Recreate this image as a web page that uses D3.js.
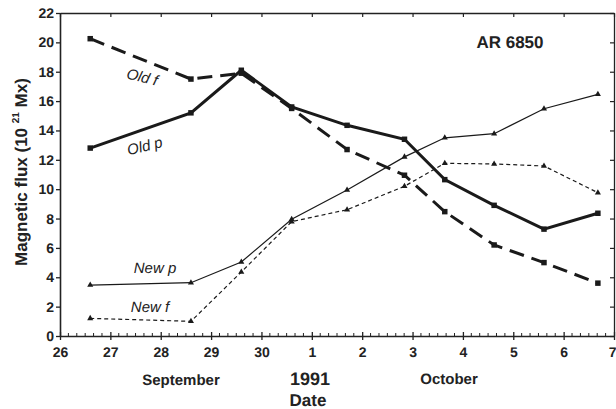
<!DOCTYPE html>
<html>
<head>
<meta charset="utf-8">
<script src="https://cdn.jsdelivr.net/npm/d3@7"></script>
<style>
  body { margin: 0; background: #fff; }
  svg text { font-family: "Liberation Sans", Arial, sans-serif; fill: #222; text-rendering: geometricPrecision; }
</style>
</head>
<body>
<div id="chart"></div>
<script>
// observation times, in days counted from September (Oct 1 = 31)
let dates = [26.6, 28.6, 29.6, 30.6, 31.7, 32.84, 33.64, 34.62, 35.61, 36.68];
let oldP = [12.8, 15.2, 18.1, 15.6, 14.35, 13.4, 10.65, 8.9, 7.28, 8.36];
let oldF = [20.25, 17.5, 17.9, 15.5, 12.7, 10.95, 8.47, 6.2, 5.0, 3.6];
let newP = [3.47, 3.63, 5.04, 7.95, 9.95, 12.2, 13.5, 13.78, 15.48, 16.46];
let newF = [1.2, 1.0, 4.36, 7.79, 8.6, 10.2, 11.76, 11.72, 11.58, 9.76];
let dayTicks = [26, 27, 28, 29, 30, 31, 32, 33, 34, 35, 36, 37];
let fluxTicks = [0, 2, 4, 6, 8, 10, 12, 14, 16, 18, 20, 22];

let margin = { top: 13, right: 2, bottom: 73, left: 60 },
	width = 616 - margin.left - margin.right,
	height = 409 - margin.top - margin.bottom;

let svg = d3.select("#chart")
	.append("svg")
	.attr("width", 616)
	.attr("height", 409)
	.append("g")
	.attr("transform", "translate(" + margin.left + "," + margin.top + ")");

let x = d3.scaleLinear().domain([26, 37]).range([0, width]);
let y = d3.scaleLinear().domain([0, 22]).range([height, 0]);

// minor ticks every 4 hours along the bottom
let minor = d3.range(26, 37, 1 / 6).filter(d => Math.abs(d - Math.round(d)) > 0.01);
svg.append("g")
	.selectAll("line")
	.data(minor)
	.enter().append("line")
	.attr("x1", d => x(d)).attr("x2", d => x(d))
	.attr("y1", height).attr("y2", height - 3)
	.attr("stroke", "#222").attr("stroke-width", 1);

// bottom axis
let xAxis = svg.append("g")
	.attr("transform", "translate(0," + height + ")")
	.call(d3.axisBottom(x).tickValues(dayTicks).tickSizeInner(4).tickSizeOuter(0)
		.tickFormat(d => d > 30 ? d - 30 : d));
xAxis.select(".domain").attr("stroke", "#222").attr("stroke-width", 1.6);
xAxis.selectAll(".tick line").attr("y1", -4).attr("stroke", "#222").attr("stroke-width", 1.3);
xAxis.selectAll(".tick text")
	.attr("y", 11)
	.style("font-size", "14px").style("font-weight", "bold")
	.style("font-family", "Liberation Sans, Arial, sans-serif").attr("fill", "#222");
// last label sits at the right edge, keep it inside the picture
xAxis.selectAll(".tick text").filter(d => d === 37)
	.attr("text-anchor", "end").attr("x", 2);

// top axis
let xTop = svg.append("g")
	.call(d3.axisTop(x).tickValues(dayTicks).tickSizeInner(-4).tickSizeOuter(0).tickFormat(""));
xTop.select(".domain").attr("stroke", "#222").attr("stroke-width", 1.3);
xTop.selectAll(".tick line").attr("stroke", "#222").attr("stroke-width", 1.2);

// left axis
let yAxis = svg.append("g")
	.call(d3.axisLeft(y).tickValues(fluxTicks).tickSizeInner(4).tickSizeOuter(0));
yAxis.select(".domain").attr("stroke", "#222").attr("stroke-width", 1.6);
yAxis.selectAll(".tick line").attr("stroke", "#222").attr("stroke-width", 1.3);
yAxis.selectAll(".tick text")
	.attr("x", -6)
	.style("font-size", "14px").style("font-weight", "bold")
	.style("font-family", "Liberation Sans, Arial, sans-serif").attr("fill", "#222");

// right axis
let yRight = svg.append("g")
	.attr("transform", "translate(" + width + ",0)")
	.call(d3.axisRight(y).tickValues(fluxTicks).tickSizeInner(-4).tickSizeOuter(0).tickFormat(""));
yRight.select(".domain").attr("stroke", "#222").attr("stroke-width", 1.3);
yRight.selectAll(".tick line").attr("stroke", "#222").attr("stroke-width", 1.2);

// series
let series = [
	{ name: "Old f", values: oldF, width: 3, dash: "15,8", marker: "square" },
	{ name: "Old p", values: oldP, width: 3, dash: null, marker: "square" },
	{ name: "New p", values: newP, width: 1.2, dash: null, marker: "triangle" },
	{ name: "New f", values: newF, width: 1.2, dash: "4,3", marker: "triangle" }
];

let line = d3.line()
	.x(d => x(d[0]))
	.y(d => y(d[1]));

series.forEach(function (s) {
	let pts = dates.map((d, i) => [d, s.values[i]]);
	svg.append("path")
		.datum(pts)
		.attr("d", line)
		.attr("fill", "none")
		.attr("stroke", "#1a1a1a")
		.attr("stroke-width", s.width)
		.attr("stroke-dasharray", s.dash);

	let sym = s.marker === "square" ? d3.symbolSquare : d3.symbolTriangle;
	svg.append("g")
		.selectAll("path")
		.data(pts)
		.enter().append("path")
		.attr("transform", d => "translate(" + x(d[0]) + "," + y(d[1]) + ")")
		.attr("d", d3.symbol().type(sym).size(s.marker === "square" ? 30 : 16))
		.attr("fill", "#1a1a1a");
});

// series labels
function label(txt, px, py, rot) {
	svg.append("text")
		.attr("transform", "translate(" + px + "," + py + ") rotate(" + rot + ")")
		.attr("text-anchor", "middle")
		.style("font-size", "15px")
		.style("font-style", "italic")
		.attr("fill", "#333")
		.text(txt);
}
label("Old f", 141 - margin.left, 82 - margin.top, 14);
label("Old p", 146 - margin.left, 151 - margin.top, -14);
label("New p", 155 - margin.left, 273 - margin.top, 0);
label("New f", 150 - margin.left, 312 - margin.top, 0);

// region name
svg.append("text")
	.attr("x", 510 - margin.left)
	.attr("y", 48 - margin.top)
	.attr("text-anchor", "middle")
	.style("font-size", "17px").style("font-weight", "bold")
	.text("AR 6850");

// axis titles
svg.append("text")
	.attr("x", 181 - margin.left).attr("y", 385 - margin.top)
	.attr("text-anchor", "middle")
	.style("font-size", "15px").style("font-weight", "bold")
	.text("September");
svg.append("text")
	.attr("x", 449 - margin.left).attr("y", 384 - margin.top)
	.attr("text-anchor", "middle")
	.style("font-size", "15px").style("font-weight", "bold")
	.text("October");
svg.append("text")
	.attr("x", 310 - margin.left).attr("y", 385 - margin.top)
	.attr("text-anchor", "middle")
	.style("font-size", "18px").style("font-weight", "bold")
	.text("1991");
svg.append("text")
	.attr("x", 308 - margin.left).attr("y", 406 - margin.top)
	.attr("text-anchor", "middle")
	.style("font-size", "17px").style("font-weight", "bold")
	.text("Date");

let yTitle = svg.append("text")
	.attr("transform", "translate(" + (27 - margin.left) + "," + (172 - margin.top) + ") rotate(-90)")
	.attr("text-anchor", "middle")
	.style("font-size", "17px").style("font-weight", "bold");
yTitle.append("tspan").text("Magnetic flux (10 ");
yTitle.append("tspan").attr("dy", -8).style("font-size", "10px").text("21");
yTitle.append("tspan").attr("dy", 8).text(" Mx)");
</script>
</body>
</html>
